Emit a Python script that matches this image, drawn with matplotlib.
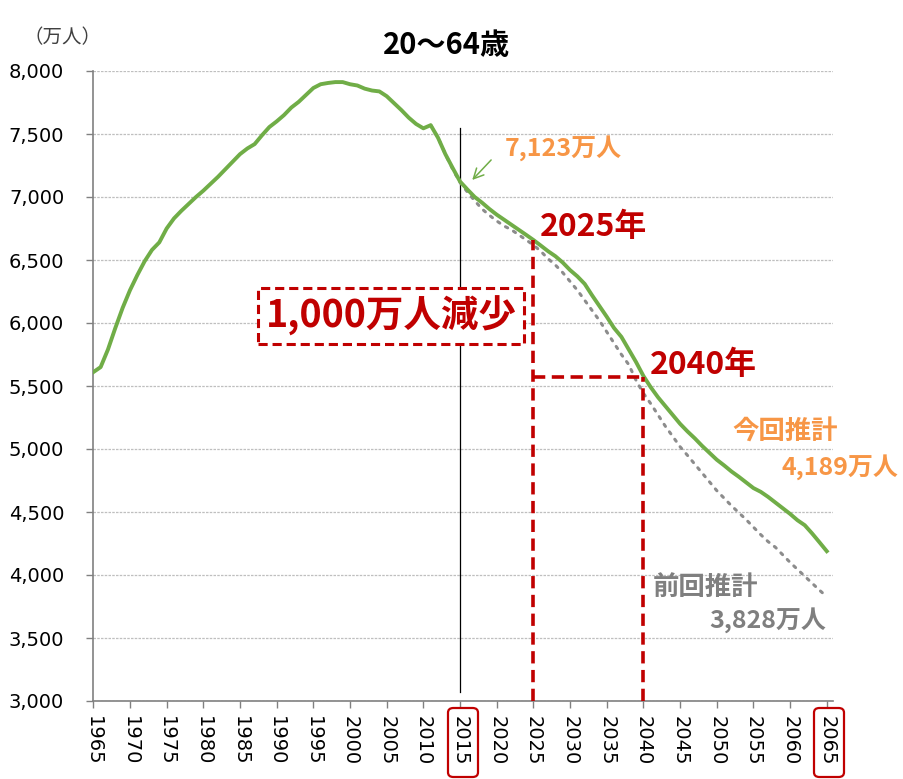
import matplotlib
matplotlib.use("Agg")
import matplotlib.pyplot as plt
from matplotlib.patches import FancyBboxPatch
import numpy as np

plt.rcParams['font.family'] = ['Noto Sans CJK JP', 'DejaVu Sans']

# ---------------- data ----------------
years = list(range(1965, 2066))
current = [
    5610, 5650, 5790, 5960, 6120, 6260, 6380, 6490, 6580, 6640,   # 1965-1974
    6750, 6830, 6890, 6945, 7000, 7050, 7105, 7160, 7220, 7280,   # 1975-1984
    7340, 7385, 7420, 7490, 7555, 7600, 7650, 7710, 7755, 7810,   # 1985-1994
    7865, 7895, 7905, 7912, 7912, 7895, 7885, 7860, 7845, 7838,   # 1995-2004
    7800, 7745, 7690, 7630, 7580, 7545, 7570, 7470, 7340, 7230,   # 2005-2014
    7123, 7060, 7000, 6955, 6905, 6860, 6820, 6780, 6740, 6700,   # 2015-2024
    6659, 6615, 6570, 6530, 6480, 6420, 6370, 6310, 6220, 6135,   # 2025-2034
    6050, 5960, 5890, 5790, 5690, 5580, 5490, 5410, 5340, 5270,   # 2035-2044
    5200, 5140, 5085, 5025, 4970, 4915, 4870, 4822, 4780, 4735,   # 2045-2054
    4690, 4660, 4620, 4575, 4530, 4485, 4435, 4395, 4330, 4260,   # 2055-2064
    4189,                                                         # 2065
]
prev_years = list(range(2011, 2066))
previous = [
    7570, 7470, 7340, 7220,                                       # 2011-2014
    7115, 7040, 6970, 6905, 6855, 6810, 6770, 6740, 6700, 6660,   # 2015-2024
    6619, 6570, 6510, 6460, 6400, 6330, 6260, 6180, 6100, 6020,   # 2025-2034
    5930, 5840, 5750, 5670, 5545, 5442, 5360, 5270, 5180, 5100,   # 2035-2044
    5018, 4950, 4880, 4810, 4740, 4670, 4610, 4550, 4495, 4440,   # 2045-2054
    4380, 4320, 4265, 4220, 4160, 4100, 4045, 3990, 3935, 3880,   # 2055-2064
    3828,                                                         # 2065
]
x_ticks = list(range(1965, 2066, 5))
y_ticks = [3000, 3500, 4000, 4500, 5000, 5500, 6000, 6500, 7000, 7500, 8000]

GREEN = '#70AD47'
ORANGE = '#F79646'
RED = '#C00000'
GRAY = '#7F7F7F'

fig = plt.figure(figsize=(9.04, 7.79), dpi=100)
ax = fig.add_axes([93.3 / 904, 1 - 701 / 779, (833 - 93.3) / 904, (701 - 71) / 779])

ax.set_xlim(1965, 2065.85)
ax.set_ylim(3000, 8000)

# gridlines and ticks
ax.set_yticks(y_ticks)
ax.set_yticklabels([f"{v:,}" for v in y_ticks], fontsize=14, family='DejaVu Sans')
ax.yaxis.grid(True, color='#BFBFBF', linestyle=(0, (2, 1)), linewidth=0.9)
ax.set_axisbelow(True)
ax.set_xticks(x_ticks)
ax.set_xticklabels([str(y) for y in x_ticks], rotation=-90, fontsize=14, family='DejaVu Sans')
ax.tick_params(axis='both', colors='#808080', labelcolor='black', length=5, width=1)
ax.tick_params(axis='x', pad=6)
ax.tick_params(axis='y', pad=16)

for s in ['top', 'right']:
    ax.spines[s].set_visible(False)
for s in ['left', 'bottom']:
    ax.spines[s].set_color('#808080')
    ax.spines[s].set_linewidth(1.2)

# series
ax.plot(prev_years, previous, color='#8C8C8C', linestyle=(0, (0.8, 2.2)), linewidth=2.2,
        dash_capstyle='round', zorder=3)
ax.plot(years, current, color=GREEN, linewidth=2.8, zorder=4, solid_joinstyle='round')

# reference lines
v2025 = current[years.index(2025)]
ax.plot([2015, 2015], [3070, 7550], color='black', linewidth=0.9, zorder=2)
red_ls = (0, (3.4, 1.8))
ax.plot([2025, 2025], [3000, v2025], color=RED, linewidth=2.6, linestyle=red_ls, zorder=5)
ax.plot([2025, 2040], [5571, 5571], color=RED, linewidth=2.6, linestyle=red_ls, zorder=5)
ax.plot([2040, 2040], [3000, 5571], color=RED, linewidth=2.6, linestyle=red_ls, zorder=5)

# annotations
ax.text(2021.1, 7389, "7,123万人", color=ORANGE, fontsize=18, fontweight='bold', ha='left', va='center')
ax.annotate("", xy=(2016.4, 7119), xytext=(2019.5, 7310),
            arrowprops=dict(arrowstyle='->', color=GREEN, lw=1.1, mutation_scale=18))
ax.text(2025.9, 6762, "2025年", color=RED, fontsize=23, fontweight='bold', ha='left', va='center')
ax.text(2040.9, 5667, "2040年", color=RED, fontsize=23, fontweight='bold', ha='left', va='center')
ax.text(2005.6, 6056, "1,000万人減少", color=RED, fontsize=27, fontweight='bold', ha='center', va='center',
        bbox=dict(boxstyle='square,pad=0.2', fc='white', ec=RED, lw=2.2, linestyle=(0, (3, 1.6))),
        zorder=6)
ax.text(2059.3, 5135, "今回推計", color=ORANGE, fontsize=19, fontweight='bold', ha='center', va='center')
ax.text(2066.8, 4857, "4,189万人", color=ORANGE, fontsize=18, fontweight='bold', ha='center', va='center',
        clip_on=False)
ax.text(2048.5, 3905, "前回推計", color=GRAY, fontsize=19, fontweight='bold', ha='center', va='center')
ax.text(2057.0, 3643, "3,828万人", color=GRAY, fontsize=18, fontweight='bold', ha='center', va='center')

# titles
fig.text(447 / 904, 1 - 45 / 779, "20～64歳", fontsize=21, fontweight='bold', ha='center', va='center')
fig.text(63 / 904, 1 - 38 / 779, "（万人）", fontsize=14, color='#404040', ha='center', va='center')

# red rounded boxes around 2015 and 2065 labels
for x0 in (448, 814):
    box = FancyBboxPatch((x0 / 904, 1 - 777 / 779), 30 / 904, 69 / 779,
                         boxstyle='round,pad=0,rounding_size=0.006',
                         transform=fig.transFigure, fill=False, ec=RED, lw=1.6)
    fig.patches.append(box)

fig.savefig("out.png", dpi=100)
